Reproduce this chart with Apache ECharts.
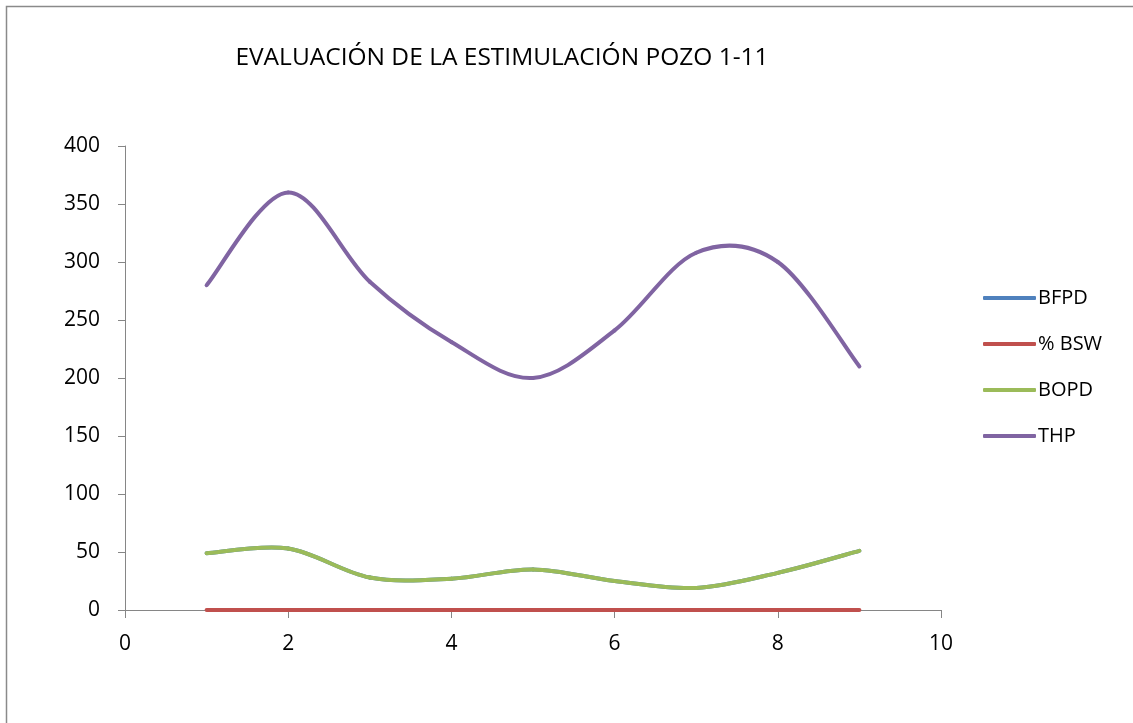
<!DOCTYPE html>
<html>
<head>
<meta charset="utf-8">
<script src="https://cdn.jsdelivr.net/npm/echarts@6/dist/echarts.min.js"></script>
<style>html,body{margin:0;padding:0;background:#fff}#c{width:1133px;height:723px}</style>
</head>
<body>
<div id="c"></div>
<script>
const xValues = [1, 2, 3, 4, 5, 6, 7, 8, 9];
const bfpd = [49, 53, 28, 27, 35, 25, 19, 32, 51];
const bsw = [0, 0, 0, 0, 0, 0, 0, 0, 0];
const bopd = [49, 53, 28, 27, 35, 25, 19, 32, 51];
const thp = [280, 360, 283, 231, 200, 241, 308, 300, 210];
const seriesNames = ['BFPD', '% BSW', 'BOPD', 'THP'];
const colors = ['#4F81BD', '#C0504D', '#9BBB59', '#8064A2'];
const titleText = 'EVALUACIÓN DE LA ESTIMULACIÓN POZO 1-11';

const font = "'Open Sans', 'Noto Sans', sans-serif";
const allData = [bfpd, bsw, bopd, thp];

// Excel-style smoothed line (Catmull-Rom Bezier through each point), drawn via the axis scales
function smoothRender(values, color) {
  return function (params, api) {
    if (params.dataIndex !== 0) return null;
    const pts = xValues.map((x, i) => api.coord([x, values[i]]));
    const n = pts.length;
    const children = [];
    for (let i = 0; i < n - 1; i++) {
      const p0 = pts[Math.max(i - 1, 0)], p1 = pts[i], p2 = pts[i + 1], p3 = pts[Math.min(i + 2, n - 1)];
      children.push({
        type: 'bezierCurve',
        shape: {
          x1: p1[0], y1: p1[1], x2: p2[0], y2: p2[1],
          cpx1: p1[0] + (p2[0] - p0[0]) / 6, cpy1: p1[1] + (p2[1] - p0[1]) / 6,
          cpx2: p2[0] - (p3[0] - p1[0]) / 6, cpy2: p2[1] - (p3[1] - p1[1]) / 6
        },
        style: { stroke: color, lineWidth: 4, fill: null, lineCap: 'round', lineJoin: 'round' },
        silent: true
      });
    }
    return { type: 'group', children: children };
  };
}

const chart = echarts.init(document.getElementById('c'));
chart.setOption({
  animation: false,
  backgroundColor: '#fff',
  graphic: [{
    type: 'rect', left: 4, top: 4,
    shape: { width: 1140, height: 730 },
    style: { fill: 'none', stroke: '#8a8a8a', lineWidth: 1.5 },
    silent: true
  }],
  title: {
    text: titleText, left: 497, top: 41, textAlign: 'center',
    textStyle: { fontFamily: font, fontSize: 24.5, fontWeight: 'normal', color: '#000' }
  },
  legend: {
    orient: 'vertical', left: 978, top: 281,
    itemWidth: 53, itemHeight: 4, itemGap: 22,
    icon: 'roundRect',
    textStyle: { fontFamily: font, fontSize: 20, color: '#000', lineHeight: 24, padding: [0, 0, 0, -3] },
    data: seriesNames
  },
  grid: { left: 125, right: 192, top: 146, bottom: 113, containLabel: false },
  xAxis: {
    type: 'value', min: 0, max: 10, interval: 2,
    axisLine: { show: true, lineStyle: { color: '#868686' } },
    axisTick: { show: true, length: 8, lineStyle: { color: '#868686' } },
    axisLabel: { fontFamily: font, fontSize: 21, color: '#000', margin: 24 },
    splitLine: { show: false }
  },
  yAxis: {
    type: 'value', min: 0, max: 400, interval: 50,
    axisLine: { show: true, lineStyle: { color: '#868686' } },
    axisTick: { show: true, length: 7, lineStyle: { color: '#868686' } },
    axisLabel: { fontFamily: font, fontSize: 21, color: '#000', margin: 25 },
    splitLine: { show: false }
  },
  series: seriesNames.map((n, i) => ({
    name: n, type: 'custom',
    data: xValues.map((x, j) => [x, allData[i][j]]),
    encode: { x: 0, y: 1 },
    renderItem: smoothRender(allData[i], colors[i]),
    itemStyle: { color: colors[i] },
    clip: false
  }))
});
</script>
</body>
</html>
